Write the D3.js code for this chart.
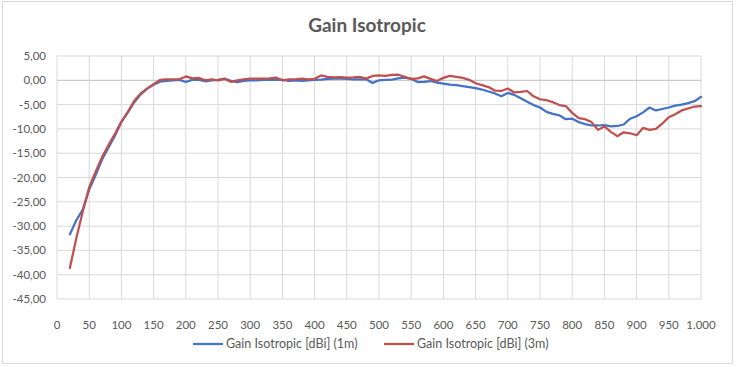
<!DOCTYPE html>
<html>
<head>
<meta charset="utf-8">
<script src="https://cdn.jsdelivr.net/npm/d3@7"></script>
<style>
  body { margin: 0; background: #fff; }
  text { font-family: Lato, "Open Sans", sans-serif; }
</style>
</head>
<body>
<div id="chart"></div>
<script>
// frequency (MHz) of each sample
const FREQ = d3.range(20, 1001, 10);

// Gain Isotropic [dBi] (1m)
const GAIN_1M = [
  -31.7, -28.8, -26.6, -22.5, -19.5, -16.3, -13.8, -11.4, -8.6, -6.6,
  -4.5, -2.9, -1.7, -0.9, -0.3, -0.1, 0.0, 0.1, -0.35, 0.1,
  0.1, -0.2, 0.0, 0.1, 0.35, -0.1, -0.4, -0.1, 0.0, 0.0,
  0.1, 0.1, 0.1, 0.1, -0.1, 0.0, -0.1, 0.0, 0.1, 0.15,
  0.3, 0.35, 0.35, 0.3, 0.2, 0.2, 0.2, -0.55, 0.0, 0.1,
  0.15, 0.4, 0.55, 0.3, -0.35, -0.3, -0.15, -0.5, -0.7, -0.9,
  -1.0, -1.2, -1.4, -1.6, -1.9, -2.3, -2.7, -3.3, -2.6, -3.0,
  -3.7, -4.4, -5.1, -5.6, -6.5, -6.9, -7.2, -8.0, -7.9, -8.6,
  -9.0, -9.3, -9.3, -9.2, -9.5, -9.4, -9.1, -7.9, -7.4, -6.6,
  -5.6, -6.2, -5.9, -5.6, -5.2, -5.0, -4.7, -4.3, -3.4
];

// Gain Isotropic [dBi] (3m)
const GAIN_3M = [
  -38.6, -32.5, -27.0, -22.0, -18.8, -15.8, -13.3, -11.0, -8.5, -6.5,
  -4.2, -2.7, -1.7, -0.8, 0.1, 0.2, 0.2, 0.2, 0.8, 0.4,
  0.5, 0.0, 0.2, 0.0, 0.3, -0.35, 0.0, 0.2, 0.35, 0.35,
  0.35, 0.4, 0.55, 0.0, 0.2, 0.2, 0.35, 0.2, 0.3, 1.0,
  0.7, 0.6, 0.65, 0.55, 0.6, 0.7, 0.35, 0.9, 1.0, 0.9,
  1.1, 1.15, 0.7, 0.3, 0.4, 0.8, 0.3, -0.15, 0.5, 0.9,
  0.7, 0.5, 0.1, -0.6, -1.0, -1.4, -2.1, -2.2, -1.7, -2.5,
  -2.4, -2.2, -3.3, -3.9, -4.1, -4.5, -5.1, -5.3, -6.7, -7.8,
  -8.0, -8.6, -10.2, -9.5, -10.6, -11.5, -10.7, -10.9, -11.3, -9.8,
  -10.2, -10.0, -8.9, -7.6, -7.0, -6.2, -5.8, -5.4, -5.3
];

const SERIES = [
  {name: 'Gain Isotropic [dBi] (1m)', values: GAIN_1M, color: '#4472c4'},
  {name: 'Gain Isotropic [dBi] (3m)', values: GAIN_3M, color: '#c0504d'}
];

const X_TICKS = d3.range(0, 1001, 50);
const Y_TICKS = d3.range(-45, 6, 5);

var W = 736, H = 367;
var margin = {top: 56, right: 35, bottom: 68, left: 57};

// comma decimals, dot thousands
var locale = d3.formatLocale({decimal: ',', thousands: '.', grouping: [3], currency: ['', ''], minus: '-'});
var fmtY = locale.format('.2f'),
    fmtX = locale.format(',');

var svg = d3.select('#chart').append('svg')
  .attr('width', W).attr('height', H);

// chart border
svg.append('rect')
  .attr('x', 2.5).attr('y', 1.5).attr('width', 730).attr('height', 362)
  .attr('fill', '#fff').attr('stroke', '#d9d9d9');

var x = d3.scaleLinear().domain([0, 1000]).range([margin.left, W - margin.right]);
var y = d3.scaleLinear().domain([-45, 5]).range([H - margin.bottom, margin.top]);

// gridlines
svg.append('g').selectAll('line.v')
  .data(X_TICKS).enter().append('line')
  .attr('x1', d => x(d)).attr('x2', d => x(d))
  .attr('y1', y(5)).attr('y2', y(-45))
  .attr('stroke', '#d9d9d9').attr('stroke-width', 1);

svg.append('g').selectAll('line.h')
  .data(Y_TICKS).enter().append('line')
  .attr('x1', x(0)).attr('x2', x(1000))
  .attr('y1', d => y(d)).attr('y2', d => y(d))
  .attr('stroke', d => d === 0 ? '#bfbfbf' : '#d9d9d9').attr('stroke-width', 1);

// y labels
svg.append('g').selectAll('text')
  .data(Y_TICKS).enter().append('text')
  .attr('x', 46).attr('y', d => y(d)).attr('dy', '0.35em')
  .attr('text-anchor', 'end')
  .attr('font-size', 11.5).attr('fill', '#595959')
  .text(d => fmtY(d));

// x labels
svg.append('g').selectAll('text')
  .data(X_TICKS).enter().append('text')
  .attr('x', d => x(d)).attr('y', 329)
  .attr('text-anchor', 'middle')
  .attr('font-size', 11.5).attr('fill', '#595959')
  .text(d => fmtX(d));

// lines
var line = d3.line()
  .x((d, i) => x(FREQ[i]))
  .y(d => y(d));

svg.append('g').selectAll('path')
  .data(SERIES).enter().append('path')
  .attr('d', d => line(d.values))
  .attr('fill', 'none')
  .attr('stroke', d => d.color)
  .attr('stroke-width', 2.25)
  .attr('stroke-linejoin', 'round')
  .attr('stroke-linecap', 'round');

// title
svg.append('text')
  .attr('x', 367).attr('y', 32)
  .attr('text-anchor', 'middle')
  .attr('font-size', 19).attr('font-weight', 'bold').attr('fill', '#595959')
  .text('Gain Isotropic');

// legend
var legX = [193, 384];
var leg = svg.append('g').selectAll('g')
  .data(SERIES).enter().append('g')
  .attr('transform', (d, i) => 'translate(' + legX[i] + ',344)');
leg.append('line')
  .attr('x1', 0).attr('x2', 30)
  .attr('stroke', d => d.color).attr('stroke-width', 2.25);
leg.append('text')
  .attr('x', 33).attr('dy', '0.35em')
  .attr('font-size', 12.5).attr('fill', '#595959')
  .text(d => d.name);
</script>
</body>
</html>
